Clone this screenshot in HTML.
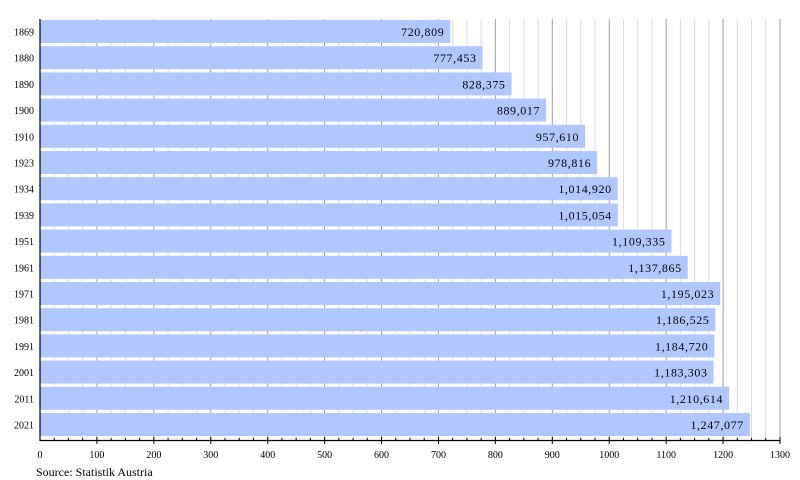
<!DOCTYPE html>
<html><head><meta charset="utf-8"><style>body{margin:0;background:#fff}svg{display:block}</style></head><body>
<svg width="800" height="480" xmlns="http://www.w3.org/2000/svg" font-family="'Liberation Serif', serif">
<rect width="800" height="480" fill="#fff"/>
<g id="grid"></g>
<g id="bars"></g>
<line x1="40" y1="19" x2="40" y2="441" stroke="#000" stroke-width="1.2"/>
<line x1="40" y1="440.5" x2="780" y2="440.5" stroke="#000" stroke-width="1.2"/>
<g id="ticks"></g>
<text x="36" y="476" font-size="12" fill="#000">Source: Statistik Austria</text>
<script>
var ns="http://www.w3.org/2000/svg";
function el(t,a,p,txt){var e=document.createElementNS(ns,t);for(var k in a)e.setAttribute(k,a[k]);if(txt!=null)e.textContent=txt;document.getElementById(p).appendChild(e);}
var k=740/1300;
for(var v=25;v<=1300;v+=25){var x=40+v*k;el('line',{x1:x,y1:19,x2:x,y2:440,stroke:v%100==0?'#a0a0a0':'#dcdcdc','stroke-width':1},'grid');
el('line',{x1:x,y1:v%100==0?437:438,x2:x,y2:v%100==0?444:440,stroke:'#000','stroke-width':1},'ticks');}
for(var v=0;v<=1300;v+=100){el('text',{x:40+v*k,y:458,'font-size':10,'text-anchor':'middle'},'ticks',String(v));}
var d=[["1869",720809],["1880",777453],["1890",828375],["1900",889017],["1910",957610],["1923",978816],["1934",1014920],["1939",1015054],["1951",1109335],["1961",1137865],["1971",1195023],["1981",1186525],["1991",1184720],["2001",1183303],["2011",1210614],["2021",1247077]];
d.forEach(function(r,i){var y=20+i*26.2,w=r[1]/1000*k;
el('rect',{x:40,y:y,width:w,height:23,fill:'#b0c8ff'},'bars');
el('text',{x:40+w-6,y:y+16,'font-size':12,'text-anchor':'end','letter-spacing':'0.6'},'bars',r[1].toLocaleString('en-US'));
el('text',{x:34,y:y+15.5,'font-size':10,'text-anchor':'end'},'bars',r[0]);});
</script>
</svg>
</body></html>
